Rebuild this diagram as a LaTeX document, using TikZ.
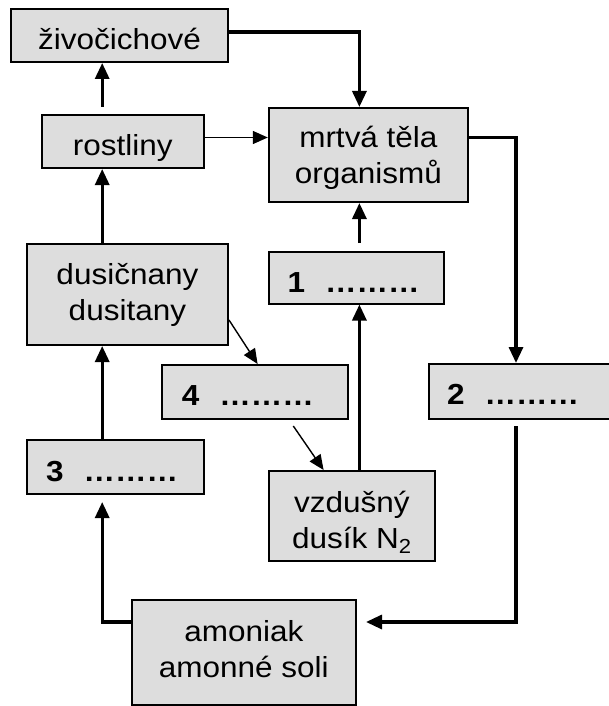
\documentclass[tikz,border=0pt]{standalone}
\usepackage{fontspec}
\setmainfont{Liberation Sans}[FakeStretch=1.086]
\usetikzlibrary{arrows.meta}
\definecolor{boxgray}{RGB}{221,221,221}
\tikzset{
  box/.style={draw=black, fill=boxgray, line width=2pt, inner sep=0pt,
    align=center, font={\fontsize{29pt}{36pt}\selectfont}, text depth=0pt},
  lbl/.style={font={\fontsize{29pt}{36pt}\selectfont\bfseries}},
  thickarr/.style={line width=3.2pt, line join=miter,
    -{Triangle[length=16pt,width=14pt]}},
  thinarr/.style={line width=1.4pt, -{Triangle[length=15pt,width=13pt]}}
}
\begin{document}
\begin{tikzpicture}[x=1pt,y=-1pt]
\useasboundingbox (0,0) rectangle (609,706);
\clip (0,0) rectangle (609,706);
% boxes
\node[box, minimum width=217pt, minimum height=53pt, text height=29pt] (zivo) at (119.5,35.5) {živočichové};
\node[box, minimum width=161.5pt, minimum height=53pt, text height=27pt] (rostl) at (122.75,141.5) {rostliny};
\node[box, minimum width=199.2pt, minimum height=94pt, text height=56.6pt] (mrtva) at (368.4,155) {mrtvá těla\\organismů};
\node[box, minimum width=201.2pt, minimum height=101pt, text height=52.4pt] (dusic) at (127.4,294.5) {dusičnany\\dusitany};
\node[box, lbl, minimum width=175.5pt, minimum height=51.5pt, text height=28.5pt] (box1) at (356.25,277.75) {1\hspace{20pt}………\hspace{5.5pt}};
\node[box, lbl, minimum width=186pt, minimum height=54pt, text height=26pt] (box4) at (255.45,392) {4\hspace{20pt}………\hspace{15pt}};
\node[box, lbl, minimum width=189.5pt, minimum height=55pt, text height=25pt] (box2) at (523.25,391.5) {2\hspace{20pt}………\hspace{20.5pt}};
\node[box, lbl, minimum width=177.2pt, minimum height=54pt, text height=28pt] (box3) at (115.4,467) {3\hspace{20pt}………\hspace{6.6pt}};
\node[box, minimum width=166.2pt, minimum height=90pt, text height=64pt] (vzdus) at (351.9,516) {vzdušný\\dusík N\textsubscript{2}};
\node[box, minimum width=224.3pt, minimum height=105pt, text height=49.6pt] (amon) at (243.85,652.5) {amoniak\\amonné soli};
% helper coordinates
\coordinate (cA) at (102.2,0);
\coordinate (cB) at (359.4,0);
\coordinate (cC) at (516,0);
\coordinate (rowZ) at (0,32);
\coordinate (rowR) at (0,137.5);
\coordinate (rowAm) at (0,622);
\coordinate (rTop) at (102.2,107);
\coordinate (oneTop) at (359.4,243);
\coordinate (gStart) at (0,320);
\coordinate (gEnd) at (257.6,0);
\coordinate (hStart) at (293.3,426);
\coordinate (hEnd) at (323.6,0);
\coordinate (kStart) at (516,426);
\coordinate (kEnd) at (366,622);
\coordinate (lEnd) at (102.2,502);
% connectors
\draw[thickarr] (zivo.east |- rowZ) -| (mrtva.north -| cB);
\draw[thickarr] (rTop) -- (zivo.south -| cA);
\draw[thinarr] (rostl.east |- rowR) -- (mrtva.west |- rowR);
\draw[thickarr] (mrtva.east |- rowR) -| (box2.north -| cC);
\draw[thickarr] (oneTop) -- (mrtva.south -| cB);
\draw[thickarr] (vzdus.north -| cB) -- (box1.south -| cB);
\draw[thinarr] (dusic.east |- gStart) -- (box4.north -| gEnd);
\draw[thinarr] (hStart) -- (vzdus.north -| hEnd);
\draw[thickarr] (box3.north -| cA) -- (dusic.south -| cA);
\draw[thickarr] (dusic.north -| cA) -- (rostl.south -| cA);
\draw[thickarr] (kStart) |- (kEnd);
\draw[thickarr] (amon.west |- rowAm) -| (lEnd);
\end{tikzpicture}
\end{document}
